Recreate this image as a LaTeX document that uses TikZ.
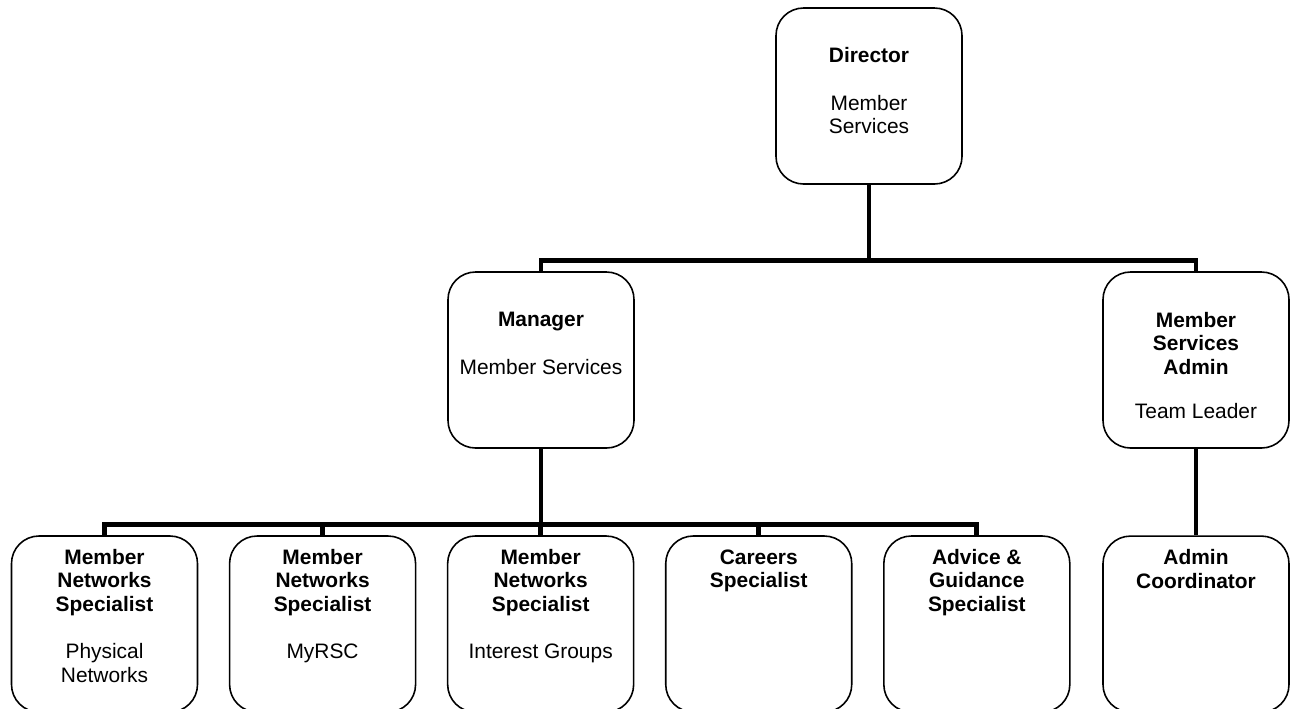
\documentclass[tikz,border=0pt]{standalone}
\usepackage{fontspec}
\setmainfont{Liberation Sans}
\usetikzlibrary{positioning}

\begin{document}
\begin{tikzpicture}[node distance=0.61cm,
    post/.style={draw, line width=0.9pt, rounded corners=0.55cm, minimum width=3.72cm, minimum height=3.52cm, inner sep=0pt},
    caption/.style={align=center, anchor=north, inner sep=0pt, font=\fontsize{11.9}{13.2}\selectfont},
    conn/.style={line width=2.8pt}]
    \clip (0,0) rectangle (25.94,-14.16);
    % boxes
    \node[post] (dir) at (17.38,-1.92) {};
    \node[post] (mgr) at (10.82,-7.2) {};
    \node[post] (msa) at (23.92,-7.2) {};
    \node[post] (b1) at (2.09,-12.48) {};
    \node[post] (b2) [right=of b1] {};
    \node[post] (b3) [right=of b2] {};
    \node[post] (b4) [right=of b3] {};
    \node[post] (b5) [right=of b4] {};
    \node[post] (adm) [below=1.73cm of msa] {};
    % texts
    \node[caption] (dirT) at ([yshift=-0.8cm]dir.north) {\textbf{Director}\\[14pt]Member\\Services};
    \node[caption] (mgrT) at ([yshift=-0.82cm]mgr.north) {\textbf{Manager}\\[14pt]Member Services};
    \node[caption] (msaT) at ([yshift=-0.82cm]msa.north) {\textbf{Member}\\\textbf{Services}\\\textbf{Admin}\\[12pt]Team Leader};
    \node[caption] (b1T) at ([yshift=-0.28cm]b1.north) {\textbf{Member}\\\textbf{Networks}\\\textbf{Specialist}\\[14pt]Physical\\Networks};
    \node[caption] (b2T) at ([yshift=-0.28cm]b2.north) {\textbf{Member}\\\textbf{Networks}\\\textbf{Specialist}\\[14pt]MyRSC};
    \node[caption] (b3T) at ([yshift=-0.28cm]b3.north) {\textbf{Member}\\\textbf{Networks}\\\textbf{Specialist}\\[14pt]Interest Groups};
    \node[caption] (b4T) at ([yshift=-0.28cm]b4.north) {\textbf{Careers}\\\textbf{Specialist}};
    \node[caption] (b5T) at ([yshift=-0.28cm]b5.north) {\textbf{Advice \&}\\\textbf{Guidance}\\\textbf{Specialist}};
    \node[caption] (admT) at ([yshift=-0.28cm]adm.north) {\textbf{Admin}\\\textbf{Coordinator}};
    % lines
    \draw[conn] (dir.south) -- ++(0,-1.52) coordinate (j1);
    \draw[conn] (mgr.north) |- (j1) -| (msa.north);
    \draw[conn] (mgr.south) -- ++(0,-1.52) coordinate (j2);
    \foreach \n in {b1,b2,b3,b4,b5}
        \draw[conn] (j2) -| (\n.north);
    \draw[conn] (msa.south) -- (adm.north);
\end{tikzpicture}
\end{document}
